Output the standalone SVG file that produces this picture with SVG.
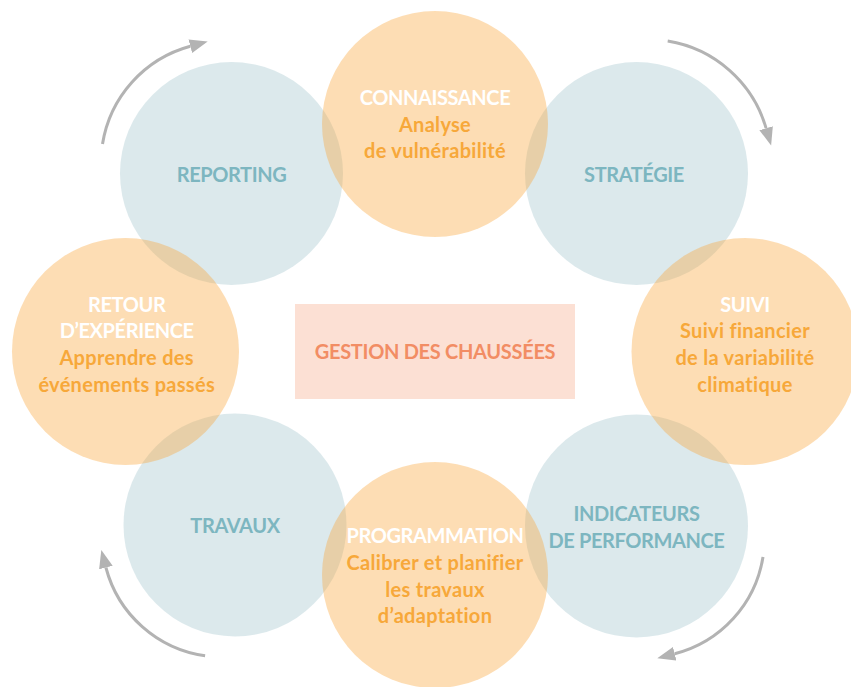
<svg xmlns="http://www.w3.org/2000/svg" width="851" height="687" viewBox="0 0 851 687">
<style>
  .or { fill: #F9A63A; fill-opacity: 0.38; }
  .bl { fill: #7FAFBA; fill-opacity: 0.27; }
  text { font-family: Lato, "Open Sans", "Liberation Sans", sans-serif; font-weight: 700; font-size: 20px; text-anchor: middle; }
  .w { fill: #FFFFFF; letter-spacing: -0.4px; }
  .o { fill: #F7A83A; letter-spacing: 0.3px; }
  .b { fill: #7DB6C0; letter-spacing: -0.4px; }
  .c { fill: #F28D64; letter-spacing: -0.3px; }
  .arr { fill: none; stroke: #B3B3B3; stroke-width: 3; marker-end: url(#ah); }
</style>
<defs>
  <marker id="ah" markerUnits="userSpaceOnUse" markerWidth="20" markerHeight="16" refX="0" refY="7" orient="auto">
    <path d="M0,0 L18,7 L0,14 z" fill="#B3B3B3"/>
  </marker>
</defs>
<rect width="851" height="687" fill="#FFFFFF"/>
<g id="reporting">
  <circle class="bl" cx="231.5" cy="173.5" r="111.5"/>
  <text class="b" x="231.5" y="181.7">REPORTING</text>
</g>
<g id="strategie">
  <circle class="bl" cx="636.5" cy="173.5" r="111.5"/>
  <text class="b" x="634" y="181.7">STRATÉGIE</text>
</g>
<g id="travaux">
  <circle class="bl" cx="235" cy="525" r="111.5"/>
  <text class="b" x="235" y="533">TRAVAUX</text>
</g>
<g id="indicateurs">
  <circle class="bl" cx="636.5" cy="526" r="111.5"/>
  <text class="b" x="636.5" y="521">INDICATEURS</text>
  <text class="b" x="636.5" y="548">DE PERFORMANCE</text>
</g>
<g id="connaissance">
  <circle class="or" cx="435" cy="124" r="113"/>
  <text class="w" x="435" y="105">CONNAISSANCE</text>
  <text class="o" x="435" y="131.7">Analyse</text>
  <text class="o" x="435" y="158.3">de vulnérabilité</text>
</g>
<g id="suivi">
  <circle class="or" cx="745" cy="351.5" r="113.5"/>
  <text class="w" x="745" y="311.7">SUIVI</text>
  <text class="o" x="745" y="338.3">Suivi financier</text>
  <text class="o" x="745" y="365">de la variabilité</text>
  <text class="o" x="745" y="391.7">climatique</text>
</g>
<g id="retour">
  <circle class="or" cx="125.5" cy="351.5" r="113.5"/>
  <text class="w" x="126.7" y="311.7">RETOUR</text>
  <text class="w" x="126.7" y="338.3">D’EXPÉRIENCE</text>
  <text class="o" x="126.7" y="365">Apprendre des</text>
  <text class="o" x="126.7" y="391.7">événements passés</text>
</g>
<g id="programmation">
  <circle class="or" cx="435" cy="575" r="113"/>
  <text class="w" x="435" y="543.3">PROGRAMMATION</text>
  <text class="o" x="435" y="570">Calibrer et planifier</text>
  <text class="o" x="435" y="596.7">les travaux</text>
  <text class="o" x="435" y="623.3">d’adaptation</text>
</g>
<g id="gestion">
  <rect x="295" y="304" width="280" height="95" fill="#FCE0D4"/>
  <text class="c" x="435" y="359.3">GESTION DES CHAUSSÉES</text>
</g>
<g id="connectors">
  <path class="arr" d="M667.7,41.1 A123,123 0 0 1 766.1,128.2"/>
  <path class="arr" d="M763,556.9 A119.5,119.5 0 0 1 674.7,653.7"/>
  <path class="arr" d="M205.1,655.8 A120,120 0 0 1 105.9,567.5"/>
  <path class="arr" d="M102.5,144.1 A121,121 0 0 1 190.3,46.2"/>
</g>
</svg>
